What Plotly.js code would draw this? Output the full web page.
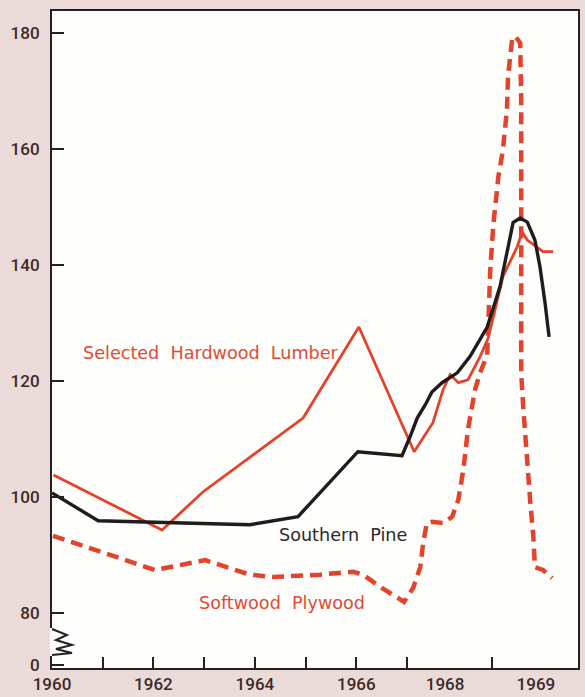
<!DOCTYPE html>
<html>
<head>
<meta charset="utf-8">
<script src="https://cdn.plot.ly/plotly-3.0.1.min.js"></script>
<style>
  html, body { margin: 0; padding: 0; background: #ebdbd8; }
  #chart { width: 585px; height: 697px; }
</style>
</head>
<body>
<div id="chart"></div>
<script>
// ---- Data (x in years on the chart's own scale, y = index values) ----
const hardwoodX = [1960.03, 1962.17, 1962.98, 1964.95, 1966.05, 1967.14, 1967.51, 1967.71, 1967.85, 1968.01, 1968.20, 1968.44, 1968.60, 1968.89, 1969.17, 1969.27, 1969.37, 1969.56, 1969.68, 1969.88];
const hardwoodY = [103.8, 94.3, 100.9, 113.6, 129.3, 107.8, 112.8, 118.5, 121.1, 119.7, 120.2, 124.2, 127.4, 138.0, 143.1, 145.7, 144.3, 143.0, 142.3, 142.3];

const pineX = [1960.00, 1960.91, 1963.90, 1964.85, 1966.03, 1966.90, 1967.06, 1967.20, 1967.36, 1967.49, 1967.69, 1967.99, 1968.24, 1968.44, 1968.58, 1968.83, 1968.99, 1969.09, 1969.23, 1969.37, 1969.52, 1969.62, 1969.72, 1969.80];
const pineY = [100.7, 95.9, 95.2, 96.6, 107.8, 107.1, 110.4, 113.6, 115.9, 118.1, 119.7, 121.4, 124.2, 127.1, 129.3, 136.2, 143.1, 147.3, 148.1, 147.4, 144.3, 139.7, 133.5, 127.6];

const plywoodX = [1960.02, 1962.03, 1963.02, 1963.90, 1964.36, 1965.28, 1965.94, 1966.13, 1966.47, 1966.94, 1967.12, 1967.26, 1967.32, 1967.39, 1967.49, 1967.71, 1967.89, 1968.01, 1968.11, 1968.20, 1968.34, 1968.44, 1968.58, 1968.64, 1968.70, 1968.80, 1968.89, 1968.97, 1968.99, 1969.07, 1969.13, 1969.23, 1969.25, 1969.25, 1969.25, 1969.29, 1969.37, 1969.43, 1969.49, 1969.52, 1969.68, 1969.86];
const plywoodY = [93.3, 87.4, 89.1, 86.6, 86.2, 86.6, 87.1, 86.6, 84.5, 81.9, 84.3, 87.9, 92.2, 95.5, 95.7, 95.5, 96.6, 99.5, 104.7, 111.6, 118.5, 121.4, 124.5, 139.2, 146.9, 155.2, 159.9, 166.8, 172.5, 178.8, 179.5, 178.3, 168.5, 145.6, 121.4, 115.5, 104.7, 99.0, 93.1, 87.9, 87.4, 86.0];

const seriesNames = ["Selected Hardwood Lumber", "Southern Pine", "Softwood Plywood"];

const yTickVals = [71, 80, 100, 120, 140, 160, 180];
const yTickText = ["0", "80", "100", "120", "140", "160", "180"];

const xTickMarks = [1961, 1962, 1963, 1964, 1965, 1966, 1967, 1968.68];
const xLabelVals = [1960, 1962, 1964, 1966, 1967.75, 1969.54];
const xLabelText = ["1960", "1962", "1964", "1966", "1968", "1969"];

// ---- Chart ----
const RED = "#e4432b";
const INK = "#1f1c1c";
const TICKFONT = {family: "Roboto, 'DejaVu Sans', sans-serif", size: 17, color: "#3b2a2a", weight: 500};
const XRANGE = [1960, 1970.37];
const YRANGE = [70.5, 183.8];

const traces = [
  {x: plywoodX, y: plywoodY, name: seriesNames[2], mode: "lines",
   line: {color: RED, width: 4.5, dash: "12px,7px"}, hoverinfo: "skip"},
  {x: hardwoodX, y: hardwoodY, name: seriesNames[0], mode: "lines",
   line: {color: RED, width: 2.8}, hoverinfo: "skip"},
  {x: pineX, y: pineY, name: seriesNames[1], mode: "lines",
   line: {color: INK, width: 3.4}, hoverinfo: "skip"},
  {x: [XRANGE[0]], y: [YRANGE[0]], xaxis: "x2", mode: "markers",
   marker: {opacity: 0}, hoverinfo: "skip", showlegend: false}
];

function px(xp) { return (xp - 52) / 526; }
function py(yp) { return (668 - yp) / 657; }
const zz = [[52,629],[67,635],[56,640],[72,645],[56,649],[72,653],[52,655]];
let zzPath = "M " + zz.map(p => px(p[0]).toFixed(4) + "," + py(p[1]).toFixed(4)).join(" L ");

const labelFont = {family: "'DejaVu Sans', sans-serif", size: 17.6};

const layout = {
  width: 585, height: 697,
  margin: {l: 52, r: 7, t: 11, b: 29, pad: 0},
  paper_bgcolor: "#ebdbd8",
  plot_bgcolor: "#fdfdfb",
  showlegend: false,
  xaxis: {
    range: XRANGE, showgrid: false, zeroline: false,
    showline: true, linecolor: "#222", linewidth: 2, mirror: true,
    tickmode: "array", tickvals: xTickMarks, ticktext: xTickMarks.map(() => ""),
    ticks: "inside", ticklen: 11, tickwidth: 2, tickcolor: "#222"
  },
  xaxis2: {
    range: XRANGE, overlaying: "x", side: "bottom", showgrid: false, zeroline: false,
    showline: false, tickmode: "array", tickvals: xLabelVals, ticktext: xLabelText,
    ticks: "", tickfont: TICKFONT, ticklabelstandoff: 4
  },
  yaxis: {
    range: YRANGE, showgrid: false, zeroline: false,
    showline: true, linecolor: "#222", linewidth: 2, mirror: true,
    tickmode: "array", tickvals: yTickVals, ticktext: yTickText,
    ticks: "inside", ticklen: 12, tickwidth: 2, tickcolor: "#222",
    tickfont: TICKFONT, ticklabelstandoff: 7
  },
  shapes: [
    {type: "rect", xref: "paper", yref: "paper", x0: -0.004, x1: 0.004, y0: py(656), y1: py(628),
     fillcolor: "#fdfdfb", line: {width: 0}, layer: "above"},
    {type: "path", xref: "paper", yref: "paper", path: zzPath,
     line: {color: "#222", width: 2}, layer: "above"}
  ],
  annotations: [
    {x: 1963.14, y: 124.85, xref: "x", yref: "y", text: "Selected&nbsp;&nbsp;Hardwood&nbsp;&nbsp;Lumber",
     showarrow: false, font: Object.assign({color: "#e24a32"}, labelFont)},
    {x: 1965.73, y: 93.45, xref: "x", yref: "y", text: "Southern&nbsp;&nbsp;Pine",
     showarrow: false, font: Object.assign({color: "#2e2a2a"}, labelFont)},
    {x: 1964.54, y: 81.7, xref: "x", yref: "y", text: "Softwood&nbsp;&nbsp;Plywood",
     showarrow: false, font: Object.assign({color: "#e24a32"}, labelFont)}
  ]
};

Plotly.newPlot("chart", traces, layout, {displayModeBar: false, staticPlot: true});
</script>
</body>
</html>
